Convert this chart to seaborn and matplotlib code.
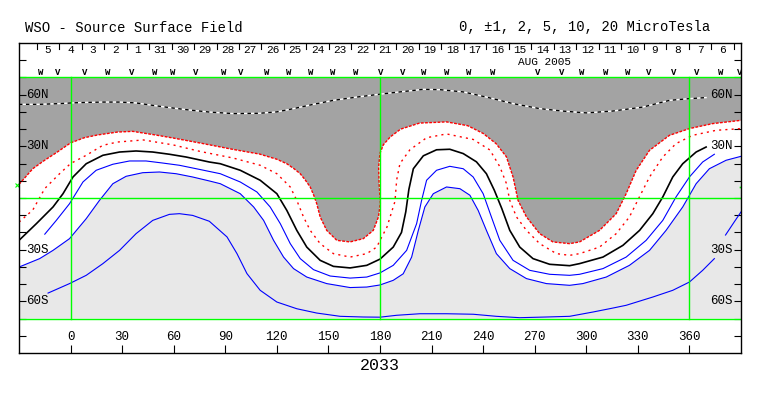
import matplotlib
matplotlib.use("Agg")
import matplotlib.pyplot as plt
import seaborn as sns

# ---------------- data ----------------
# outer red dotted contour (boundary of the dark-gray positive region)
lon_pos2 = [-30, -29, -22, -15.7, -8, 0, 8, 15.7, 27.3, 36.2, 42.4, 50, 59.8, 75.5, 94.6, 110, 120, 125.8, 130, 133.6,
            136.5, 139.4, 141.5, 143.2, 145.2, 149, 154.9, 162.6, 170.3, 176.1, 179.1, 180.2, 179.5, 179.2, 180, 182, 186,
            192, 203, 218.7, 231, 240, 247.5, 253.5, 257.4, 260.3, 265.2, 272.9, 280.6, 290.3, 296.1, 307.7, 317.4, 323.2,
            329, 336.8, 348.4, 360, 373.5, 390]
lat_pos2 = [8, 9, 17, 21.5, 26.5, 32, 35, 36.6, 38.3, 38.7, 37.7, 36.5, 34.8, 31.9, 28.2, 25.5, 22.5, 19.9, 17, 14.1,
            10.5, 6.4, 1.5, -3.3, -11, -18.8, -24.6, -25.5, -23.6, -18.8, -11, -3, 8, 18, 26, 31, 35.5,
            40, 43.5, 44.2, 42, 37.5, 31.6, 24, 12.2, -1.4, -11, -20.7, -25.5, -26.5, -25.5, -18.8, -9.1, 2.5,
            16, 27.7, 36.4, 40.3, 43.2, 45.1]

# inner red dotted contour (+1)
lon_pos1 = [-30, -22, -15, -6.4, 0, 9.1, 18.8, 27.3, 42.4, 59.8, 75.5, 94.6, 110.3, 120, 127.8, 131.6, 135.5, 139.4,
            145.2, 152.9, 162.6, 172.3, 178.1, 180, 184, 186.5, 188.7, 189.7, 191.6, 197.4, 207.1, 218.7, 234.2, 243.9,
            249.7, 253.5, 255.5, 259.4, 265.2, 272.9, 282.6, 290.3, 296.1, 307.7, 317.4, 325.1, 330.9, 336.8, 344.5,
            352.2, 361.9, 375.5, 390]
lat_pos1 = [-14, -7, 5.5, 14.1, 20, 24.8, 30.6, 32.5, 33.7, 30.8, 27, 23.2, 19, 14.1, 6.4, -1.4, -11, -18.8,
            -26.5, -32.3, -34.3, -32.3, -28.5, -24.6, -17, -9, -2, 10.5, 20, 28, 35, 37.2, 34, 27.9,
            18.2, 8.5, -1.4, -11, -18.8, -26.5, -32.3, -33.3, -32.3, -28.5, -20.7, -11, 0.6, 12.2, 23.8,
            31.6, 36.4, 39.3, 40.3]

# neutral line (0)
lon_zero = [-30, -19.9, -10.2, -4.4, 1.4, 9.1, 18.8, 28.5, 38.1, 47.8, 57.5, 67.2, 80.7, 87.1, 98.7, 110.3, 120, 125.8,
            131.6, 137.4, 145.2, 152.9, 162.6, 172.3, 180, 187.7, 192.5, 195, 196.8, 199.4, 205.2, 212.9, 220.6, 228.4,
            236.1, 241.9, 246.5, 250.8, 255.5, 261.3, 269, 278.7, 290.3, 296.1, 309.7, 321.3, 331, 338.7, 344.5, 350.3,
            356.1, 363.9, 369.7]
lat_zero = [-24.6, -14.9, -5.2, 2.5, 12.2, 19.9, 24.8, 26.7, 27.3, 26.7, 25.4, 23.8, 20.9, 19.9, 16.1, 10.3, 2.5, -7.2,
            -18.8, -28.5, -36.2, -39.7, -40.6, -39.1, -35.5, -28.5, -20, -8, 5, 17, 24.5, 28, 28.3, 25.8,
            21, 14.1, 4.5, -6, -18.8, -28.5, -35.2, -38.5, -39.3, -38.1, -34.3, -27.5, -18.8, -9.1, 0.6, 12.2,
            19.9, 26.7, 29.6]

# blue contour (-1)
lon_neg1 = [-15, -8.3, -0.6, 7.2, 14.9, 24.6, 34.3, 43.9, 53.6, 63.3, 75.5, 87.1, 98.7, 108.4, 116.1, 122, 127.8, 133.6,
            141.3, 151, 162.6, 172.3, 180, 187.7, 195.5, 201.3, 204.2, 207.1, 212.9, 220.6, 228.4, 234.2, 240, 244.8,
            249.7, 257.4, 267.1, 278.7, 290.3, 296.1, 309.7, 323.2, 334.8, 344.5, 352.2, 360, 367.7, 374.5]
lat_neg1 = [-21, -13, -3.3, 9.3, 16.1, 19.6, 21.5, 21.5, 20.3, 19, 16.5, 14.1, 9.3, 3.5, -5.2, -14.9, -26.5, -35.2,
            -41.6, -45.3, -46.5, -45.9, -43.5, -39.1, -30.4, -14.9, -1.4, 10.3, 16.1, 18.4, 17, 12.2, 2.5, -11,
            -24.6, -36.2, -42, -44.3, -44.9, -44.3, -41, -34.3, -24.6, -13, 0.6, 12.2, 20.9, 25.4]

# blue contour (-2), boundary of the light-gray negative region
lon_neg2 = [-30, -18, -10.2, -0.6, 9.1, 16.8, 24.6, 32.3, 42, 51.7, 61.4, 71, 80.7, 87.1, 98.7, 106.5, 112.3, 118.1,
            123.9, 129.7, 137.4, 149, 162.6, 172.3, 180, 187.7, 193.5, 198.4, 202.3, 206.1, 211, 218.7, 226.5, 232.3,
            237.1, 241.9, 247.7, 255.5, 265.2, 276.8, 290.3, 298, 311.6, 325.1, 336.8, 346.4, 356.1, 363.9, 371.6,
            381.3, 390]
lat_neg2 = [-40.1, -35.2, -30.4, -23.6, -12, -1.4, 8.3, 12.6, 14.7, 15.1, 14.1, 12.2, 9.9, 8.3, 2.5, -5.2, -13, -24.6,
            -34.3, -41, -45.9, -49.7, -52, -51.7, -50.5, -47.8, -44, -34.3, -18.8, -5.2, 2.5, 6.4, 5.4, 1.6,
            -7.2, -18.8, -32.3, -41, -46.8, -49.7, -50.7, -49.7, -45.9, -39.1, -30.4, -18.8, -5.2, 8.3, 17,
            21.9, 24.2]

# blue contour (-5), two pieces (broken by the 30S label)
lon_neg5 = [-13.1, -0.6, 9.1, 18.8, 28.5, 38.1, 47.8, 57.5, 63.3, 71, 80.7, 91, 96.8, 102.6, 110.3, 120, 131.6, 143.2,
            156.8, 170.3, 180, 189.7, 203.2, 218.7, 234.2, 247.7, 261.3, 276.8, 290.3, 303.9, 315, 323.2, 338.7, 350.3,
            360, 367.7, 374.5]
lat_neg5 = [-55.2, -49.7, -44.9, -38.1, -30.4, -20.7, -13, -9.5, -9.1, -10.1, -13.5, -22.6, -32.3, -43.9, -53.6, -60.4,
            -64.3, -66.8, -68.7, -69.1, -69.2, -68.1, -67.2, -67.2, -67.5, -68.7, -69.5, -69.1, -68.7, -66.2, -64,
            -62.3, -57.5, -53.6, -48.8, -42, -35.2]
lon_neg5_tail = [381, 386, 390]
lat_neg5_tail = [-21.5, -14, -8.1]

# black/white dashed contour in the north (+5)
lon_pos5 = [-30, -18, -6.4, 0.4, 9.1, 18.8, 28.5, 38.1, 47.8, 57.5, 67.2, 80.7, 94.9, 110, 120, 129.7, 141.3, 152.9,
            166.5, 180, 191.6, 205.2, 214.8, 228.4, 241.9, 257.4, 272.9, 286, 300, 315.5, 332.9, 348.4, 360, 369.7]
lat_pos5 = [54.4, 54.4, 54.8, 55.2, 55.5, 55.7, 55.7, 55.2, 53.8, 52.5, 51.3, 49.9, 49, 49.2, 50, 51.9, 54.4, 56.7,
            58.6, 60.3, 61.6, 63.1, 62.9, 61.6, 58.6, 54.8, 51.9, 50.5, 49.4, 50.5, 52.8, 56.7, 57.7, 58.3]

# observation markers along the top
obs_lon = [-17.4, -7.5, 8.1, 21.5, 35.4, 48.8, 59.2, 72.6, 88.8, 98.7, 113.8, 126.6, 139.4, 152.7, 166.1, 180.6,
           193.4, 205.6, 218.9, 231.7, 245.6, 271.7, 285.7, 297.3, 311.2, 324.0, 336.2, 350.7, 364.1, 378.0, 389.0]
obs_code = ["W", "V", "V", "W", "V", "W", "W", "V", "W", "V", "W", "W", "W", "W", "W", "V",
            "V", "W", "W", "W", "W", "V", "V", "W", "W", "W", "V", "V", "V", "W", "V"]

# calendar days (Sep 5 back to Aug 6, 2005)
day_labels = [5, 4, 3, 2, 1, 31, 30, 29, 28, 27, 26, 25, 24, 23, 22, 21, 20, 19, 18, 17, 16, 15, 14, 13, 12, 11,
              10, 9, 8, 7, 6]
first_day_lon = -13.2
deg_per_day = 13.08

lon_ticks = [0, 30, 60, 90, 120, 150, 180, 210, 240, 270, 300, 330, 360]
lat_tick_labels = {60: "60N", 30: "30N", -30: "30S", -60: "60S"}

# ---------------- figure ----------------
MONO = ["Liberation Mono", "DejaVu Sans Mono"]
DARK = "#a3a3a3"
LIGHT = "#e8e8e8"
GREEN = "#00ff00"

fig = plt.figure(figsize=(7.63, 3.96), dpi=100)
ax = fig.add_axes([19 / 763, 43 / 396, 722 / 763, 310 / 396])
ax.set_xlim(-30, 390)
ax.set_ylim(-90, 90)
ax.set_facecolor("white")

# shaded polarity regions
ax.fill(lon_pos2 + [390, -30], lat_pos2 + [70, 70], color=DARK, lw=0, zorder=1)
ax.fill(lon_neg2 + [390, -30], lat_neg2 + [-70, -70], color=LIGHT, lw=0, zorder=1)

# contours
kw = dict(sort=False, estimator=None, ax=ax)
sns.lineplot(x=lon_pos5, y=lat_pos5, color="white", lw=1.0, zorder=2, **kw)
sns.lineplot(x=lon_pos5, y=lat_pos5, color="black", lw=1.0, linestyle=(0, (2.5, 2.5)), zorder=2.1, **kw)
sns.lineplot(x=lon_pos2, y=lat_pos2, color="red", lw=1.0, linestyle=(0, (2, 1)), zorder=2, **kw)
sns.lineplot(x=lon_pos1, y=lat_pos1, color="red", lw=1.0, linestyle=(0, (1.5, 3)), zorder=2, **kw)
sns.lineplot(x=lon_zero, y=lat_zero, color="black", lw=1.2, zorder=2, **kw)
for lo, la in [(lon_neg1, lat_neg1), (lon_neg2, lat_neg2), (lon_neg5, lat_neg5), (lon_neg5_tail, lat_neg5_tail)]:
    sns.lineplot(x=lo, y=la, color="blue", lw=0.8, zorder=2, **kw)

# green reference grid
for la in (70, 0, -70):
    ax.plot([-30, 390], [la, la], color=GREEN, lw=1.0, zorder=4)
for lo in (0, 180, 360):
    ax.plot([lo, lo], [-70, 70], color=GREEN, lw=1.0, zorder=4)
ax.plot([-31.2], [7.5], marker="x", ms=3, mew=0.8, color=GREEN, clip_on=False, zorder=5)
ax.plot([389.6], [6.4], marker="s", ms=1.2, mew=0, color=GREEN, clip_on=False, zorder=5)

# ticks
ax.set_yticks(range(-80, 81, 10))
ax.set_xticks(lon_ticks)
ax.tick_params(axis="y", direction="in", length=5, width=0.8, left=True, right=True,
               labelleft=False, labelright=False)
ax.tick_params(axis="x", direction="in", length=5.8, width=0.8, bottom=True, top=False, labelbottom=False)
ax.set_xlabel("")
ax.set_ylabel("")
for s in ax.spines.values():
    s.set_color("black")
    s.set_linewidth(1.0)
    s.set_zorder(6)

# latitude labels
for la, txt in lat_tick_labels.items():
    ax.text(-25.6, la, txt, ha="left", va="center", fontsize=9, family=MONO, zorder=5)
    ax.text(385.4, la, txt, ha="right", va="center", fontsize=9, family=MONO, zorder=5)

# longitude labels
for lo in lon_ticks:
    ax.text(lo, -80.5, str(lo), ha="center", va="center", fontsize=9, family=MONO)

# rotation number
ax.text(180, -97, "2033", ha="center", va="center", fontsize=12, family=MONO, clip_on=False)

# day labels and separators
for i, d in enumerate(day_labels):
    c = first_day_lon + i * deg_per_day
    ax.text(c, 86.2, str(d), ha="center", va="center", fontsize=8, family=MONO)
for i in range(len(day_labels) + 1):
    s = first_day_lon + (i - 0.5) * deg_per_day
    ax.plot([s, s], [90, 86.6], color="black", lw=0.8)
ax.text(275.8, 79.2, "AUG 2005", ha="center", va="center", fontsize=8, family=MONO)

# observation markers
for lo, code in zip(obs_lon, obs_code):
    ax.text(lo, 72.9, code, ha="center", va="center", fontsize=6.5, family=MONO, fontweight="bold",
            clip_on=True)

# header texts
fig.text(25 / 763, 1 - 27.5 / 396, "WSO - Source Surface Field", ha="left", va="center",
         fontsize=10, family=MONO)
fig.text(710 / 763, 1 - 27.5 / 396, "0, \u00b11, 2, 5, 10, 20 MicroTesla", ha="right", va="center",
         fontsize=10, family=MONO)

fig.savefig("out.png", dpi=100)
